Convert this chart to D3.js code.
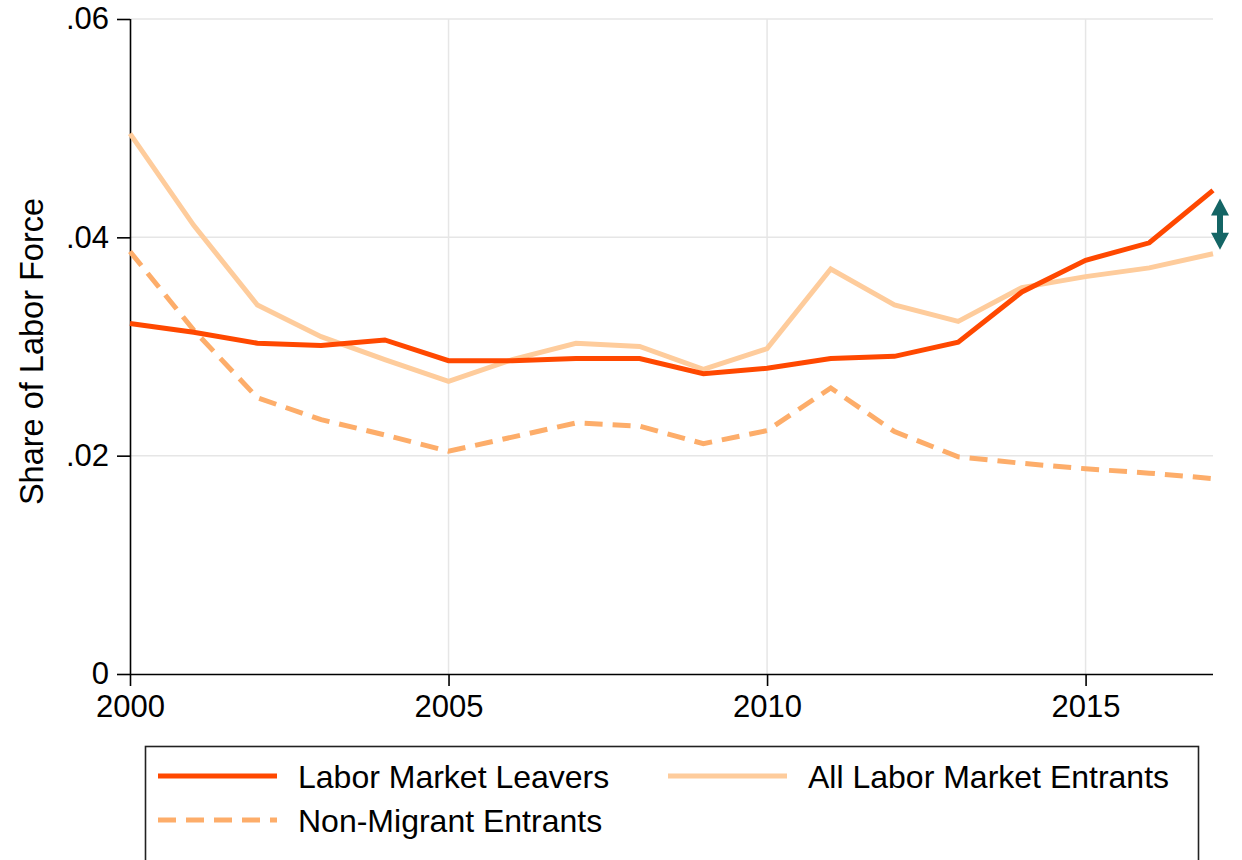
<!DOCTYPE html>
<html><head><meta charset="utf-8">
<script src="https://cdn.jsdelivr.net/npm/d3@7"></script>
<style>html,body{margin:0;padding:0;background:#fff;}svg{display:block;font-family:"Liberation Sans",Arial,Helvetica,sans-serif;}</style>
</head><body><svg id="c" width="1242" height="860"></svg>
<script>
const years = [2000,2001,2002,2003,2004,2005,2006,2007,2008,2009,2010,2011,2012,2013,2014,2015,2016,2017];
const leavers = [0.0321,0.0313,0.0303,0.0301,0.0306,0.0287,0.0287,0.0289,0.0289,0.0275,0.0280,0.0289,0.0291,0.0304,0.0350,0.0379,0.0395,0.0443];
const allEntrants = [0.0495,0.0411,0.0338,0.0309,0.0288,0.0268,0.0288,0.0303,0.0300,0.0279,0.0298,0.0371,0.0338,0.0323,0.0354,0.0364,0.0372,0.0385];
const nonMigrant = [0.0387,0.0315,0.0253,0.0233,0.0219,0.0204,0.0217,0.0230,0.0227,0.0211,0.0223,0.0262,0.0222,0.0199,0.0193,0.0188,0.0184,0.0179];
const yTicks = [0,0.02,0.04,0.06];
const yTickLabels = ["0",".02",".04",".06"];
const xTicks = [2000,2005,2010,2015];
const series = [
  {name:"Labor Market Leavers", values:leavers, color:"#ff4800", dash:null},
  {name:"All Labor Market Entrants", values:allEntrants, color:"#fecc9c", dash:null},
  {name:"Non-Migrant Entrants", values:nonMigrant, color:"#fdad6a", dash:"18,10"}
];

const svg = d3.select("#c");
const L=130, R=1213, T=19, B=674;
const x = d3.scaleLinear().domain([2000,2017]).range([L,R]);
const y = d3.scaleLinear().domain([0,0.06]).range([B,T]);
const FS = 31;

// gridlines
svg.append("g").selectAll("line").data(yTicks.filter(d=>d>0)).join("line")
  .attr("x1",L).attr("x2",R).attr("y1",d=>y(d)).attr("y2",d=>y(d))
  .attr("stroke","#e6e6e6").attr("stroke-width",1.5);
svg.append("g").selectAll("line").data(xTicks.filter(d=>d>2000)).join("line")
  .attr("x1",d=>x(d)).attr("x2",d=>x(d)).attr("y1",T).attr("y2",B)
  .attr("stroke","#e6e6e6").attr("stroke-width",1.5);

// axes
const yAxis = d3.axisLeft(y).tickValues(yTicks).tickFormat((d,i)=>yTickLabels[i]).tickSize(13).tickPadding(8);
const gy = svg.append("g").attr("transform",`translate(${L},0)`).call(yAxis);
const xAxis = d3.axisBottom(x).tickValues(xTicks).tickFormat(d3.format("d")).tickSize(12).tickPadding(9);
const gx = svg.append("g").attr("transform",`translate(0,${B})`).call(xAxis);
[gx,gy].forEach(g=>{
  g.select(".domain").attr("stroke","#000").attr("stroke-width",1.6);
  g.selectAll(".tick line").attr("stroke","#000").attr("stroke-width",1.6);
  g.selectAll("text").attr("font-size",FS).attr("fill","#000").attr("font-family","Liberation Sans, Arial, sans-serif");
});
gx.select(".domain").attr("d",`M${L},0.5H${R}`);
gy.select(".domain").attr("d",`M0.5,${T}V${B}`);

svg.append("text").attr("transform",`translate(43,${(T+B)/2+5}) rotate(-90)`)
  .attr("text-anchor","middle").attr("font-size",32.5).attr("fill","#000").text("Share of Labor Force");

// lines
const line = d3.line().x((d,i)=>x(years[i])).y(d=>y(d));
const order = [series[2], series[1], series[0]];
svg.append("g").selectAll("path").data(order).join("path")
  .attr("d",d=>line(d.values)).attr("fill","none")
  .attr("stroke",d=>d.color).attr("stroke-width",5)
  .attr("stroke-dasharray",d=>d.dash).attr("stroke-linejoin","miter");

// double arrow annotation between last values
const ax = R+7;
const yTop = y(leavers[leavers.length-1])+8, yBot = y(allEntrants[allEntrants.length-1])-4;
const hw=9, hh=17, sw=3;
svg.append("path")
  .attr("d",`M${ax},${yTop} L${ax+hw},${yTop+hh} L${ax+sw},${yTop+hh} L${ax+sw},${yBot-hh} L${ax+hw},${yBot-hh} L${ax},${yBot} L${ax-hw},${yBot-hh} L${ax-sw},${yBot-hh} L${ax-sw},${yTop+hh} L${ax-hw},${yTop+hh} Z`)
  .attr("fill","#146565");

// legend
svg.append("rect").attr("x",145.5).attr("y",746.5).attr("width",1053).attr("height",140)
  .attr("fill","#fff").attr("stroke","#222").attr("stroke-width",1.6);
const legPos = [
  {s:series[0], lx:158, ty:776},
  {s:series[1], lx:668, ty:776},
  {s:series[2], lx:158, ty:820}
];
const lg = svg.append("g");
legPos.forEach(p=>{
  lg.append("line").attr("x1",p.lx).attr("x2",p.lx+119).attr("y1",p.ty).attr("y2",p.ty)
    .attr("stroke",p.s.color).attr("stroke-width",5).attr("stroke-dasharray",p.s.dash);
  lg.append("text").attr("x",p.lx+140).attr("y",p.ty+12).attr("font-size",32).attr("fill","#000").text(p.s.name);
});
</script></body></html>
